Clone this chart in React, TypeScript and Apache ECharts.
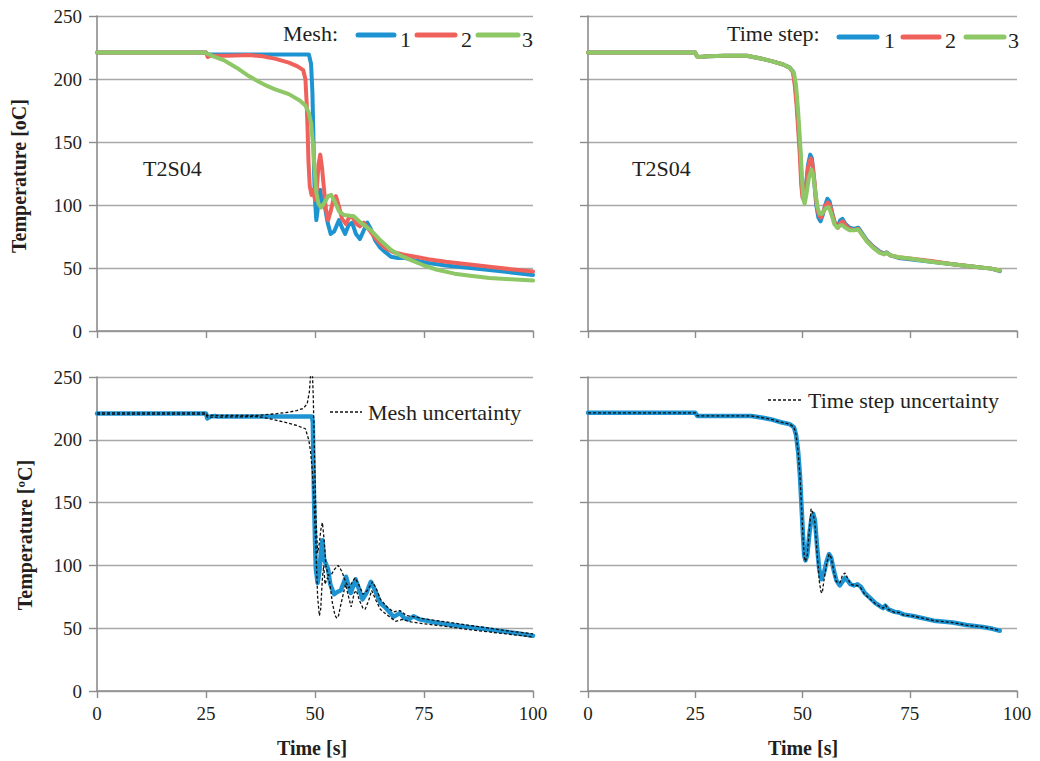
import React, { useEffect, useRef } from "react";
import * as echarts from "echarts";

const FONT = "'Liberation Serif', 'Times New Roman', serif";
const BLUE = "#1d93d1";
const RED = "#ef625c";
const GREEN = "#8ec765";
const INK = "#231f20";

const xTicks = [0, 25, 50, 75, 100];
const yTicks = [0, 50, 100, 150, 200, 250];

// Top-left: mesh sensitivity (time s, temperature °C)
const mesh1 = [
  [0, 221], [25, 221], [25.3, 219], [26, 219.5], [35, 219.5], [45, 219.5], [48.6, 219.5],
  [49.1, 212], [49.4, 190], [49.6, 160], [49.8, 125], [50, 104], [50.3, 88], [50.6, 96],
  [50.9, 108], [51.2, 112], [51.6, 102], [52.2, 100], [52.9, 86], [53.6, 77], [54.4, 79],
  [55.5, 88], [56.2, 82], [56.9, 77], [57.7, 84], [58.5, 86], [59.4, 77], [60.3, 73],
  [61.2, 80], [62, 86], [62.8, 81], [63.8, 72], [65, 66], [66, 63], [67.4, 59], [69, 58],
  [70.5, 58], [73, 56], [76, 54], [80, 52], [85.6, 50], [90, 48.5], [95, 46.5], [100, 44.5],
];
const mesh2 = [
  [0, 221], [25, 221], [25.4, 217.5], [26, 218.5], [30, 218.5], [35, 219], [38, 218],
  [41, 216], [44, 213], [46, 210], [47.3, 207], [47.8, 200], [48.1, 180], [48.3, 160],
  [48.5, 135], [48.8, 115], [49.2, 108], [49.6, 112], [50, 104], [50.4, 112], [50.8, 132],
  [51.2, 140], [51.6, 130], [52, 115], [52.5, 97], [53, 88], [53.6, 95], [54.2, 104],
  [54.8, 107], [55.4, 100], [56.2, 89], [57.1, 85], [57.8, 90], [58.5, 91], [59.5, 85],
  [60.3, 83], [61.2, 86], [62.5, 80], [64, 73], [66, 66], [68, 62.5], [70.4, 60.5],
  [73, 59], [76, 57], [80, 55], [85, 53], [90, 51], [95, 49], [100, 47.2],
];
const mesh3 = [
  [0, 221], [24.7, 221], [27, 217.5], [29.3, 214.5], [32, 209], [34.5, 203], [37, 198],
  [39, 194.5], [40.7, 192], [44, 188], [46.5, 183], [47.8, 179], [48.6, 173], [49.1, 165],
  [49.5, 150], [49.9, 128], [50.3, 110], [50.8, 101], [51.4, 98], [52.2, 102], [53, 107],
  [53.7, 108], [54.5, 103], [55.5, 95], [56.7, 92], [58.9, 91], [60.5, 86], [62.8, 80],
  [65, 72], [67.4, 64.5], [69.5, 60], [71.9, 56.5], [75, 52], [78, 48.6], [82, 45.5],
  [85.6, 43.8], [90, 42], [95, 41], [100, 40],
];

// Top-right: time step sensitivity
const step1 = [
  [0, 221], [25, 221], [25.4, 218], [26, 217.5], [28, 218], [32, 218.5], [37, 218.5],
  [40, 216.5], [43, 214], [45.5, 211.5], [47, 209], [47.8, 206], [48.3, 195], [48.7, 180],
  [49.1, 160], [49.5, 140], [49.8, 118], [50.1, 106], [50.4, 104], [50.8, 115], [51.3, 132],
  [51.8, 140], [52.2, 137], [52.7, 120], [53.2, 100], [53.7, 90], [54.2, 87], [54.7, 92],
  [55.3, 100], [55.8, 105], [56.3, 103], [56.9, 94], [57.5, 86], [58.2, 83], [58.8, 88],
  [59.3, 89], [60, 85], [61, 82], [62, 81], [63, 82], [64, 77], [65, 72], [66.5, 67],
  [68, 63], [69, 61.5], [69.6, 62.5], [70.5, 60], [72.4, 58], [75, 57], [80, 55], [85, 53],
  [90, 51], [94, 49.5], [96, 47.5],
];
const step2 = [
  [0, 221], [25, 221], [25.4, 218], [26, 217.5], [28, 218], [32, 218.5], [37, 218.5],
  [40, 216.5], [43, 214], [45.5, 211.5], [47, 209], [47.8, 205], [48.2, 195], [48.6, 180],
  [49, 160], [49.4, 138], [49.7, 116], [50, 106], [50.4, 103], [50.8, 114], [51.3, 130],
  [51.9, 137], [52.3, 133], [52.8, 118], [53.3, 100], [53.8, 92], [54.3, 90], [54.8, 94],
  [55.4, 100], [55.9, 102], [56.4, 100], [57, 92], [57.6, 85], [58.3, 82], [58.9, 86],
  [59.4, 87], [60, 84], [61, 81], [62, 80], [63, 81], [64, 76], [65, 71.5], [66.5, 66.5],
  [68, 62.5], [69, 61], [69.6, 62], [70.5, 60], [72.4, 58.5], [75, 57.5], [80, 55.5],
  [85, 53], [90, 51], [94, 49.5], [96, 48],
];
const step3 = [
  [0, 221], [25, 221], [25.4, 218], [26, 217.5], [28, 218], [32, 218.5], [37, 218.5],
  [40, 216.5], [43, 214], [45.5, 211.5], [47, 209], [48, 205], [48.5, 195], [48.9, 178],
  [49.3, 158], [49.6, 140], [49.9, 120], [50.2, 105], [50.5, 101], [50.9, 108], [51.5, 122],
  [52.1, 128], [52.5, 124], [53, 110], [53.5, 98], [54, 93], [54.5, 93], [55.1, 96],
  [55.7, 98], [56.2, 98], [56.8, 92], [57.4, 85], [58.1, 82], [58.8, 84], [59.3, 84],
  [60, 82], [61, 80], [62, 80], [63, 80.5], [64, 76], [65, 71], [66.5, 66], [68, 62],
  [69, 61], [69.6, 62], [70.5, 60], [72.4, 58.5], [75, 57.5], [80, 55], [85, 53],
  [90, 51], [94, 49.5], [96, 48],
];

// Bottom-left: mesh result with uncertainty bounds
const meshMean = [
  [0, 221], [25, 221], [25.3, 217], [26, 218.5], [27, 219], [27.5, 218.5], [30, 218.5],
  [40, 218.5], [45, 218.5], [49.3, 218.5], [49.5, 214], [49.6, 190], [49.8, 150],
  [50, 120], [50.2, 97], [50.6, 86], [51, 95], [51.3, 108], [51.7, 120], [52.1, 105],
  [52.4, 102], [53, 97], [53.5, 85], [54.4, 77], [55.2, 79], [55.9, 80], [57.1, 91],
  [58.2, 78], [59.3, 89], [60, 82], [60.9, 73], [61.8, 78], [62.8, 87], [63.8, 80],
  [65, 70], [66, 67], [67.3, 62], [68, 59], [69.5, 62], [70.5, 58], [71.5, 57],
  [72.6, 59.5], [74, 57], [77, 55], [80.5, 53], [85, 51], [88.4, 49.5], [92, 48],
  [96.3, 46], [100, 44],
];
const meshUpper = [
  [0, 221.5], [25, 221.5], [25.3, 219.5], [37, 219.5], [41, 220.7], [44, 222], [45.8, 223.3],
  [47.3, 225], [48.2, 228.6], [48.7, 238], [49, 252], [49.3, 262], [49.6, 235], [49.9, 185],
  [50.2, 140], [50.6, 110], [51, 118], [51.4, 130], [51.7, 134], [52.1, 120], [52.5, 100],
  [53, 92], [53.8, 93], [54.5, 97], [55.3, 100], [56.2, 95], [57, 87], [57.8, 82],
  [58.6, 87], [59.2, 90], [60, 85], [61, 77], [62, 80], [63.2, 87], [64, 82], [65, 73],
  [66.5, 67], [68, 63], [69.5, 64], [71, 60], [73, 59], [75, 57.5], [80, 55], [85, 52.5],
  [90, 50], [95, 47.5], [100, 45.5],
];
const meshLower = [
  [0, 220.5], [25, 220.5], [25.3, 218], [37, 218.5], [40, 216.5], [43, 214], [45.8, 211.4],
  [47.8, 208.8], [48.6, 199.5], [49, 190], [49.4, 175], [49.8, 150], [50.2, 115],
  [50.6, 75], [51, 60], [51.3, 65], [51.7, 90], [52, 100], [52.3, 85], [52.8, 90],
  [53.3, 88], [54, 70], [54.6, 60], [55, 58], [55.4, 60], [56, 70], [57, 85], [57.7, 75],
  [58.3, 67], [59, 78], [59.5, 80], [60.2, 72], [61, 66], [61.5, 65], [62.3, 72],
  [63, 80], [64, 72], [65, 65], [66, 62], [67.5, 58], [68.5, 55.5], [70, 57], [72, 55],
  [75, 53.5], [80, 51.5], [85, 49], [90, 47], [95, 45], [100, 43],
];

// Bottom-right: time step result with uncertainty
const stepMean = [
  [0, 221.5], [25, 221.5], [25.5, 219], [30, 219], [35, 219], [38, 219], [40, 218],
  [42.5, 216.4], [45, 214], [47, 212.5], [48, 210], [48.5, 204], [49, 190], [49.4, 172],
  [49.8, 145], [50.1, 125], [50.4, 108], [50.7, 104], [51.1, 108], [51.6, 125], [52.1, 138],
  [52.5, 141], [52.9, 136], [53.4, 115], [53.9, 97], [54.4, 89], [55, 94], [55.6, 103],
  [56.2, 109], [56.7, 106], [57.3, 96], [57.9, 88], [58.7, 84], [59.3, 87], [59.9, 90],
  [60.5, 88], [61.2, 85], [62, 84], [62.8, 85], [63.6, 83], [64.5, 78], [65.8, 74],
  [67, 70], [68.1, 67.5], [68.8, 66], [69.3, 68], [70, 65], [71.5, 63], [72.5, 62.5],
  [73.5, 61], [76, 59.5], [80.6, 56], [85, 54.5], [88.2, 52.5], [92, 51], [94.3, 49.5],
  [96, 48],
];
const stepUnc = [
  [0, 221.5], [25, 221.5], [25.5, 219], [30, 219], [35, 219], [38, 219], [40, 218],
  [42.5, 216.4], [45, 214], [47, 212.5], [48, 210], [48.5, 204], [49, 190], [49.4, 172],
  [49.8, 145], [50.1, 124], [50.4, 107], [50.7, 103], [51.1, 108], [51.6, 128], [52, 145],
  [52.4, 142], [52.9, 134], [53.4, 110], [53.9, 88], [54.3, 79], [54.6, 78], [55, 88],
  [55.6, 101], [56.2, 109], [56.7, 106], [57.3, 95], [57.9, 87], [58.7, 86], [59.3, 92],
  [59.9, 94], [60.5, 90], [61.2, 85], [62, 84], [62.8, 84], [63.6, 82], [64.5, 77],
  [65.8, 73], [67, 69.5], [68.1, 67], [68.8, 66], [69.3, 68.5], [70, 65], [71.5, 62.5],
  [72.5, 62.5], [73.5, 60.5], [76, 59.5], [80.6, 56], [85, 54.5], [88.2, 52.5], [92, 51],
  [94.3, 49.5], [96, 48],
];

const grids = [
  { left: 97, top: 16, width: 436, height: 315 },
  { left: 588, top: 16, width: 429, height: 315 },
  { left: 97, top: 377, width: 436, height: 314 },
  { left: 588, top: 377, width: 429, height: 314 },
];

function xAxisCfg(gridIndex: number) {
  return {
    type: "value",
    gridIndex,
    min: xTicks[0],
    max: xTicks[xTicks.length - 1],
    interval: 25,
    axisLine: { show: true, lineStyle: { color: "#8c8c8c", width: 1.6 } },
    axisTick: { show: true, length: 7, lineStyle: { color: "#8c8c8c", width: 1.4 } },
    axisLabel: { show: false },
    splitLine: { show: false },
  };
}

function yAxisCfg(gridIndex: number) {
  return {
    type: "value",
    gridIndex,
    min: yTicks[0],
    max: yTicks[yTicks.length - 1],
    interval: 50,
    axisLine: { show: true, lineStyle: { color: "#8c8c8c", width: 1.6 } },
    axisTick: { show: true, length: 8, lineStyle: { color: "#8c8c8c", width: 1.4 } },
    axisLabel: { show: false },
    splitLine: { show: true, lineStyle: { color: "#a8a8a8", width: 1.3 } },
  };
}

function solid(name: string, data: number[][], color: string, idx: number, width = 4) {
  return {
    name,
    type: "line",
    xAxisIndex: idx,
    yAxisIndex: idx,
    data,
    showSymbol: false,
    symbol: "none",
    clip: true,
    lineStyle: { color, width, cap: "round", join: "round" },
    itemStyle: { color },
    z: 3,
  };
}

function dashed(name: string, data: number[][], idx: number) {
  return {
    name,
    type: "line",
    xAxisIndex: idx,
    yAxisIndex: idx,
    data,
    showSymbol: false,
    symbol: "none",
    clip: true,
    lineStyle: { color: "#111111", width: 1.3, type: [3, 2] },
    itemStyle: { color: "#111111" },
    z: 4,
  };
}

function txt(text: string, x: number, y: number, size: number, opts: any = {}) {
  return {
    type: "text",
    x,
    y,
    rotation: opts.rotation || 0,
    style: {
      text,
      fill: INK,
      font: `${opts.bold ? "bold " : ""}${size}px ${FONT}`,
      textAlign: opts.align || "left",
      textVerticalAlign: "middle",
    },
    z: 10,
  };
}

function legLine(x1: number, x2: number, y: number, color: string) {
  return {
    type: "line",
    shape: { x1, y1: y, x2, y2: y },
    style: { stroke: color, lineWidth: 5, lineCap: "round" },
    z: 10,
  };
}

function dashLegLine(x1: number, x2: number, y: number) {
  return {
    type: "line",
    shape: { x1, y1: y, x2, y2: y },
    style: { stroke: "#111111", lineWidth: 1.3, lineDash: [3, 2] },
    z: 10,
  };
}

export default function App() {
  const ref = useRef<HTMLDivElement>(null);

  useEffect(() => {
    if (!ref.current) return;
    const chart = echarts.init(ref.current, undefined, { renderer: "svg" });
    const staticGraphics: any[] = [
      txt("Temperature [oC]", 19, 176, 20, { bold: true, rotation: Math.PI / 2, align: "center" }),
      txt("Temperature [ºC]", 25, 535, 20, { bold: true, rotation: Math.PI / 2, align: "center" }),
      txt("Time [s]", 312, 748, 20, { bold: true, align: "center" }),
      txt("Time [s]", 803, 748, 20, { bold: true, align: "center" }),
      txt("T2S04", 143, 168, 22),
      txt("T2S04", 632, 168, 22),
      txt("Mesh:", 283, 33, 22),
      legLine(358, 394, 35, BLUE),
      txt("1", 400, 39, 22),
      legLine(417, 455, 35, RED),
      txt("2", 461, 39, 22),
      legLine(478, 518, 35, GREEN),
      txt("3", 522, 39, 22),
      txt("Time step:", 727, 33, 22),
      legLine(839, 877, 37, BLUE),
      txt("1", 884, 40, 22),
      legLine(903, 939, 37, RED),
      txt("2", 945, 40, 22),
      legLine(966, 1004, 37, GREEN),
      txt("3", 1008, 40, 22),
      dashLegLine(330, 362, 412),
      txt("Mesh uncertainty", 368, 412, 22),
      dashLegLine(768, 801, 400),
      txt("Time step uncertainty", 808, 400, 22),
    ];
    const option: any = {
      animation: false,
      backgroundColor: "#ffffff",
      grid: grids,
      xAxis: [xAxisCfg(0), xAxisCfg(1), xAxisCfg(2), xAxisCfg(3)],
      yAxis: [yAxisCfg(0), yAxisCfg(1), yAxisCfg(2), yAxisCfg(3)],
      series: [
        solid("Mesh 1", mesh1, BLUE, 0),
        solid("Mesh 2", mesh2, RED, 0),
        solid("Mesh 3", mesh3, GREEN, 0),
        solid("Time step 1", step1, BLUE, 1),
        solid("Time step 2", step2, RED, 1),
        solid("Time step 3", step3, GREEN, 1),
        solid("Mesh result", meshMean, BLUE, 2, 4.5),
        dashed("Mesh uncertainty", meshUpper, 2),
        dashed("Mesh uncertainty", meshLower, 2),
        solid("Time step result", stepMean, BLUE, 3, 4.5),
        dashed("Time step uncertainty", stepUnc, 3),
      ],
      graphic: staticGraphics,
    };
    chart.setOption(option);

    // Tick labels placed through the axes' own scales
    const tickLabels: any[] = [];
    [0, 2].forEach((gi) => {
      yTicks.forEach((v) => {
        const p = chart.convertToPixel({ gridIndex: gi }, [0, v]) as number[];
        tickLabels.push(txt(String(v), p[0] - 15, p[1], 19, { align: "right" }));
      });
    });
    [2, 3].forEach((gi) => {
      xTicks.forEach((v) => {
        const p = chart.convertToPixel({ gridIndex: gi }, [v, 0]) as number[];
        tickLabels.push(txt(String(v), p[0], p[1] + 22, 19, { align: "center" }));
      });
    });
    chart.setOption({ graphic: [...staticGraphics, ...tickLabels] }, { replaceMerge: ["graphic"] });

    return () => chart.dispose();
  }, []);

  return (
    <div
      ref={ref}
      style={{ position: "absolute", left: 0, top: 0, width: 1040, height: 761, background: "#fff" }}
    />
  );
}
